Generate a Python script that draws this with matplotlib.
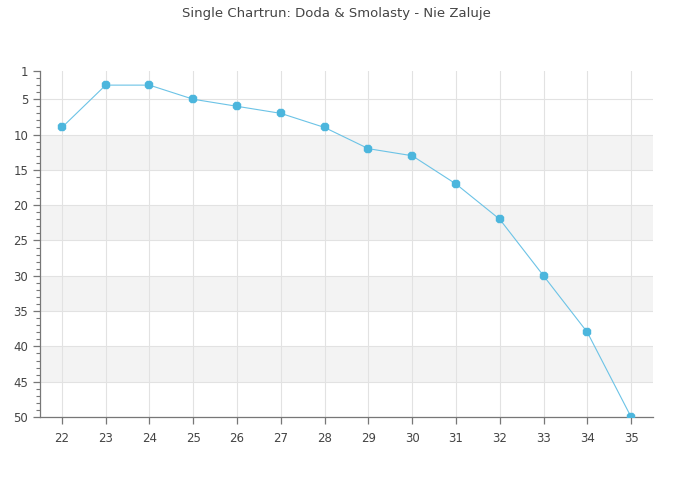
import matplotlib
matplotlib.use("Agg")
import matplotlib.pyplot as plt
from matplotlib.ticker import MultipleLocator

# data
weeks = [22, 23, 24, 25, 26, 27, 28, 29, 30, 31, 32, 33, 34, 35]
positions = [9, 3, 3, 5, 6, 7, 9, 12, 13, 17, 22, 30, 38, 50]
ytick_vals = [1, 5, 10, 15, 20, 25, 30, 35, 40, 45, 50]
bands = [(10, 15), (20, 25), (30, 35), (40, 45)]

fig = plt.figure(figsize=(6.73, 5.0), dpi=100)
ax = fig.add_axes([40 / 673, 1 - 417 / 500, 613 / 673, 346 / 500])

for lo, hi in bands:
    ax.axhspan(lo, hi, color="#f3f3f3", zorder=0, lw=0)

for y in ytick_vals[1:]:
    ax.axhline(y, color="#e2e2e2", lw=0.8, zorder=1)
for x in weeks:
    ax.axvline(x, color="#e2e2e2", lw=0.8, zorder=1)

ax.plot(weeks, positions, color="#6cc3e6", lw=0.8, zorder=3)
ax.plot(weeks, positions, ls="none", marker="8", ms=6.5,
        color="#4cb6dd", mec="#4cb6dd", mew=0.3, zorder=4)

ax.set_xlim(21.5, 35.5)
ax.set_ylim(50, 1)
ax.set_xticks(weeks)
ax.set_yticks(ytick_vals)
ax.yaxis.set_minor_locator(MultipleLocator(1))

for side in ["top", "right"]:
    ax.spines[side].set_visible(False)
for side in ["left", "bottom"]:
    ax.spines[side].set_color("#777777")
    ax.spines[side].set_linewidth(0.9)

ax.tick_params(axis="both", colors="#777777", labelcolor="#444444",
               labelsize=8.5, length=5, width=0.9)
ax.tick_params(axis="y", which="minor", colors="#777777", length=3, width=0.8)
ax.tick_params(axis="x", pad=6)

fig.suptitle("Single Chartrun: Doda & Smolasty - Nie Zaluje",
             y=0.985, fontsize=9.5, color="#444444")

plt.savefig("out.png", dpi=100)
